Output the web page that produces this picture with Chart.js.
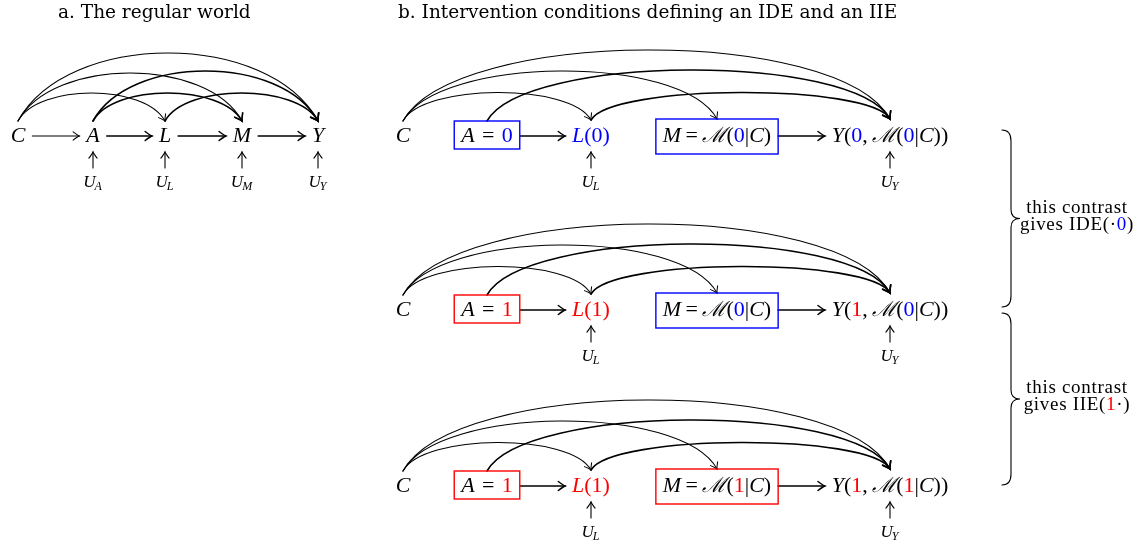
<!DOCTYPE html>
<html>
<head>
<meta charset="UTF-8">
<title>Regular world and intervention conditions</title>
<script src="https://cdn.jsdelivr.net/npm/chart.js@4/dist/chart.umd.min.js"></script>
<style>
  html, body { margin: 0; padding: 0; background: #fff; }
  #wrap { width: 1140px; height: 544px; }
</style>
</head>
<body>
<div id="wrap"><canvas id="dag"></canvas></div>
<script>
// panel a: the regular world
var aNodes = ['C', 'A', 'L', 'M', 'Y'];
var aNodeX = [18, 93, 165, 242, 318];
var aNoise = [1, 2, 3, 4];                 // nodes that get a U parent
var aArrows = [[0, 1], [1, 2], [2, 3], [3, 4]];
var aArcs = [[0, 2, 28], [0, 3, 48], [0, 4, 68], [1, 3, 28], [1, 4, 50], [2, 4, 28]]; // from, to, rise

// panel b: three intervention rows, nodes C, A, L, M, Y
var bNodeX = [403, 487, 591, 717, 890];
var rowY = [136, 310, 486];
var rowA = ['0', '1', '1'];   // value A is set to
var rowM = ['0', '0', '1'];   // value of A that M is drawn under
var bNoise = [2, 4];
var bArrows = [[1, 2], [3, 4]];
var bArcs = [[0, 2, 28], [0, 3, 49], [0, 4, 70], [1, 4, 50], [2, 4, 27]];

var titles = ['a. The regular world', 'b. Intervention conditions defining an IDE and an IIE'];
var titleX = [58, 398];
var contrastRows = [[0, 1], [1, 2]];
var contrastName = ['IDE', 'IIE'];

var BLUE = '#0000ff', RED = '#ff0000', INK = '#000000';
var SERIF = '"Liberation Serif", "DejaVu Serif", serif';
var PAD = 7;

function valueColour(v) { return v === '0' ? BLUE : RED; }

function fontFor(kind) {
  if (kind === 'i') return 'italic 22px ' + SERIF;
  if (kind === 's') return 'italic 21px "DejaVu Serif", serif';
  if (kind === 'u') return 'italic 17px ' + SERIF;
  if (kind === 'sub') return 'italic 12px ' + SERIF;
  return '22px ' + SERIF;
}

// labels are lists of [text, kind, colour]
function aLabel(r) {
  var c = valueColour(rowA[r]);
  return [['A', 'i'], ['\u2004=\u2004', 'n'], [rowA[r], 'n', c]];
}
function lLabel(r) {
  var c = valueColour(rowA[r]);
  return [['L', 'i', c], ['(', 'n', c], [rowA[r], 'n', c], [')', 'n', c]];
}
function mLabel(r) {
  return [['M', 'i'], ['\u2009=\u2009', 'n'], ['\u2133', 's'], ['(', 'n'], [rowM[r], 'n', valueColour(rowM[r])],
          ['|', 'n'], ['C', 'i'], [')', 'n']];
}
function yLabel(r) {
  return [['Y', 'i'], ['(', 'n'], [rowA[r], 'n', valueColour(rowA[r])], [',\u2009', 'n'], ['\u2133', 's'], ['(', 'n'],
          [rowM[r], 'n', valueColour(rowM[r])], ['|', 'n'], ['C', 'i'], ['))', 'n']];
}

function measure(ctx, segs) {
  var w = 0, asc = 0, desc = 0;
  segs.forEach(function (s) {
    ctx.font = fontFor(s[1]);
    var m = ctx.measureText(s[0]);
    w += m.width;
    asc = Math.max(asc, m.actualBoundingBoxAscent);
    desc = Math.max(desc, m.actualBoundingBoxDescent);
  });
  return { w: w, asc: asc, desc: desc };
}

function drawSegs(ctx, segs, cx, base) {
  var m = measure(ctx, segs), x = cx - m.w / 2;
  ctx.textAlign = 'left';
  ctx.textBaseline = 'alphabetic';
  segs.forEach(function (s) {
    ctx.font = fontFor(s[1]);
    ctx.fillStyle = s[2] || INK;
    ctx.fillText(s[0], x, base);
    x += ctx.measureText(s[0]).width;
  });
}

// node geometry: text extents plus inner sep
function place(ctx, segs, cx, cy, box) {
  var base = cy + 6, m = measure(ctx, segs);
  return { segs: segs, cx: cx, base: base, box: box,
           left: cx - m.w / 2 - PAD, right: cx + m.w / 2 + PAD,
           top: base - m.asc - PAD, bottom: base + m.desc + PAD };
}

function head(ctx, x, y, ang, lw) {
  var len = 4.5 + lw * 1.5, wid = 3 + lw;
  ctx.save();
  ctx.translate(x, y);
  ctx.rotate(ang);
  ctx.beginPath();
  ctx.moveTo(-len, -wid);
  ctx.quadraticCurveTo(-len * 0.25, -wid * 0.15, 0, 0);
  ctx.quadraticCurveTo(-len * 0.25, wid * 0.15, -len, wid);
  ctx.stroke();
  ctx.restore();
}

function arrow(ctx, x0, y0, x1, y1, lw) {
  ctx.lineWidth = lw;
  ctx.beginPath();
  ctx.moveTo(x0, y0);
  ctx.lineTo(x1, y1);
  ctx.stroke();
  head(ctx, x1, y1, Math.atan2(y1 - y0, x1 - x0), lw);
}

function arc(ctx, a, b, rise, lw) {
  var y0 = a.top, y1 = b.top;
  var h = rise / 0.75, k = 0.55 * h;
  ctx.lineWidth = lw;
  ctx.beginPath();
  ctx.moveTo(a.cx, y0);
  ctx.bezierCurveTo(a.cx + k, y0 - h, b.cx - k, y1 - h, b.cx, y1);
  ctx.stroke();
  head(ctx, b.cx, y1, Math.atan2(h, k), lw);
}

function brace(ctx, x, y0, y1) {
  var m = (y0 + y1) / 2, a = 9;
  ctx.lineWidth = 1.1;
  ctx.beginPath();
  ctx.moveTo(x, y0);
  ctx.quadraticCurveTo(x + a, y0, x + a, y0 + a + 2);
  ctx.lineTo(x + a, m - a);
  ctx.quadraticCurveTo(x + a, m, x + 2 * a, m);
  ctx.quadraticCurveTo(x + a, m, x + a, m + a);
  ctx.lineTo(x + a, y1 - a - 2);
  ctx.quadraticCurveTo(x + a, y1, x, y1);
  ctx.stroke();
}

function noise(ctx, n, name) {
  arrow(ctx, n.cx, n.base + 26, n.cx, n.base + 10, 1.1);
  ctx.font = fontFor('u');
  var wu = ctx.measureText('U').width;
  ctx.font = fontFor('sub');
  var ws = ctx.measureText(name).width;
  var x = n.cx - (wu + ws) / 2;
  ctx.fillStyle = INK;
  ctx.textAlign = 'left';
  ctx.font = fontFor('u');
  ctx.fillText('U', x, n.base + 45);
  ctx.font = fontFor('sub');
  ctx.fillText(name, x + wu - 1, n.base + 48);
}

function drawRow(ctx, nodes, arrows, arcs, noiseAt, names) {
  ctx.strokeStyle = INK;
  arcs.forEach(function (e) { arc(ctx, nodes[e[0]], nodes[e[1]], e[2], e[0] === 0 ? 1.05 : 1.6); });
  arrows.forEach(function (e) {
    var a = nodes[e[0]], b = nodes[e[1]], y = a.base - 6;
    arrow(ctx, a.right, y, b.left, y, e[0] === 0 ? 1.1 : 1.5);
  });
  nodes.forEach(function (n) {
    if (n.box) {
      ctx.strokeStyle = n.box;
      ctx.lineWidth = 1.4;
      ctx.strokeRect(n.left, n.top, n.right - n.left, n.bottom - n.top);
      ctx.strokeStyle = INK;
    }
    drawSegs(ctx, n.segs, n.cx, n.base);
  });
  noiseAt.forEach(function (i) { noise(ctx, nodes[i], names[i]); });
}

var dagPlugin = {
  id: 'dag',
  afterDatasetsDraw: function (chart) {
    var ctx = chart.ctx, xs = chart.scales.x, ys = chart.scales.y;
    ctx.save();
    ctx.lineCap = 'round';

    // titles
    ctx.fillStyle = INK;
    ctx.font = '18.5px "DejaVu Serif", serif';
    ctx.textAlign = 'left';
    ctx.textBaseline = 'alphabetic';
    titles.forEach(function (t, i) { ctx.fillText(t, xs.getPixelForValue(titleX[i]), ys.getPixelForValue(18)); });

    // panel a, from the points of dataset 0
    var pa = chart.getDatasetMeta(0).data;
    var aPlaced = aNodes.map(function (n, i) { return place(ctx, [[n, 'i']], pa[i].x, pa[i].y, null); });
    drawRow(ctx, aPlaced, aArrows, aArcs, aNoise, aNodes);

    // panel b rows
    rowY.forEach(function (y, r) {
      var p = chart.getDatasetMeta(r + 1).data;
      var segs = [[['C', 'i']], aLabel(r), lLabel(r), mLabel(r), yLabel(r)];
      var boxes = [null, valueColour(rowA[r]), null, valueColour(rowM[r]), null];
      var placed = segs.map(function (s, i) { return place(ctx, s, p[i].x, p[i].y, boxes[i]); });
      drawRow(ctx, placed, bArrows, bArcs, bNoise, aNodes);
    });

    // contrast braces
    contrastRows.forEach(function (pair, i) {
      var y0 = ys.getPixelForValue(rowY[pair[0]]) + (i === 0 ? -6 : 3);
      var y1 = ys.getPixelForValue(rowY[pair[1]]) - (i === 0 ? 3 : 1);
      var m = (y0 + y1) / 2, cx = xs.getPixelForValue(1077);
      ctx.strokeStyle = INK;
      brace(ctx, xs.getPixelForValue(1002), y0, y1);
      ctx.font = '19px ' + SERIF;
      ctx.letterSpacing = '0.7px';
      ctx.textAlign = 'center';
      ctx.fillStyle = INK;
      ctx.fillText('this contrast', cx, m - 6);
      var v = rowA[pair[i === 0 ? 0 : 1]];
      var parts = i === 0 ? ['gives ' + contrastName[i] + '(\u00b7', v, ')'] : ['gives ' + contrastName[i] + '(', v, '\u00b7)'];
      var w = parts.reduce(function (s, t) { return s + ctx.measureText(t).width; }, 0);
      var x = cx - w / 2;
      ctx.textAlign = 'left';
      parts.forEach(function (t, j) {
        ctx.fillStyle = j === 1 ? valueColour(v) : INK;
        ctx.fillText(t, x, m + 11);
        x += ctx.measureText(t).width;
      });
      ctx.letterSpacing = '0px';
    });
    ctx.restore();
  }
};

var datasets = [{ data: aNodeX.map(function (x) { return { x: x, y: rowY[0] }; }) }];
rowY.forEach(function (y) {
  datasets.push({ data: bNodeX.map(function (x) { return { x: x, y: y }; }) });
});

new Chart(document.getElementById('dag'), {
  type: 'scatter',
  data: { datasets: datasets },
  options: {
    responsive: true,
    maintainAspectRatio: false,
    animation: false,
    layout: { padding: 0 },
    elements: { point: { radius: 0, hoverRadius: 0 } },
    plugins: { legend: { display: false }, tooltip: { enabled: false } },
    scales: {
      x: { type: 'linear', min: 0, max: 1140, display: false },
      y: { type: 'linear', min: 0, max: 544, reverse: true, display: false }
    }
  },
  plugins: [dagPlugin]
});
</script>
</body>
</html>
